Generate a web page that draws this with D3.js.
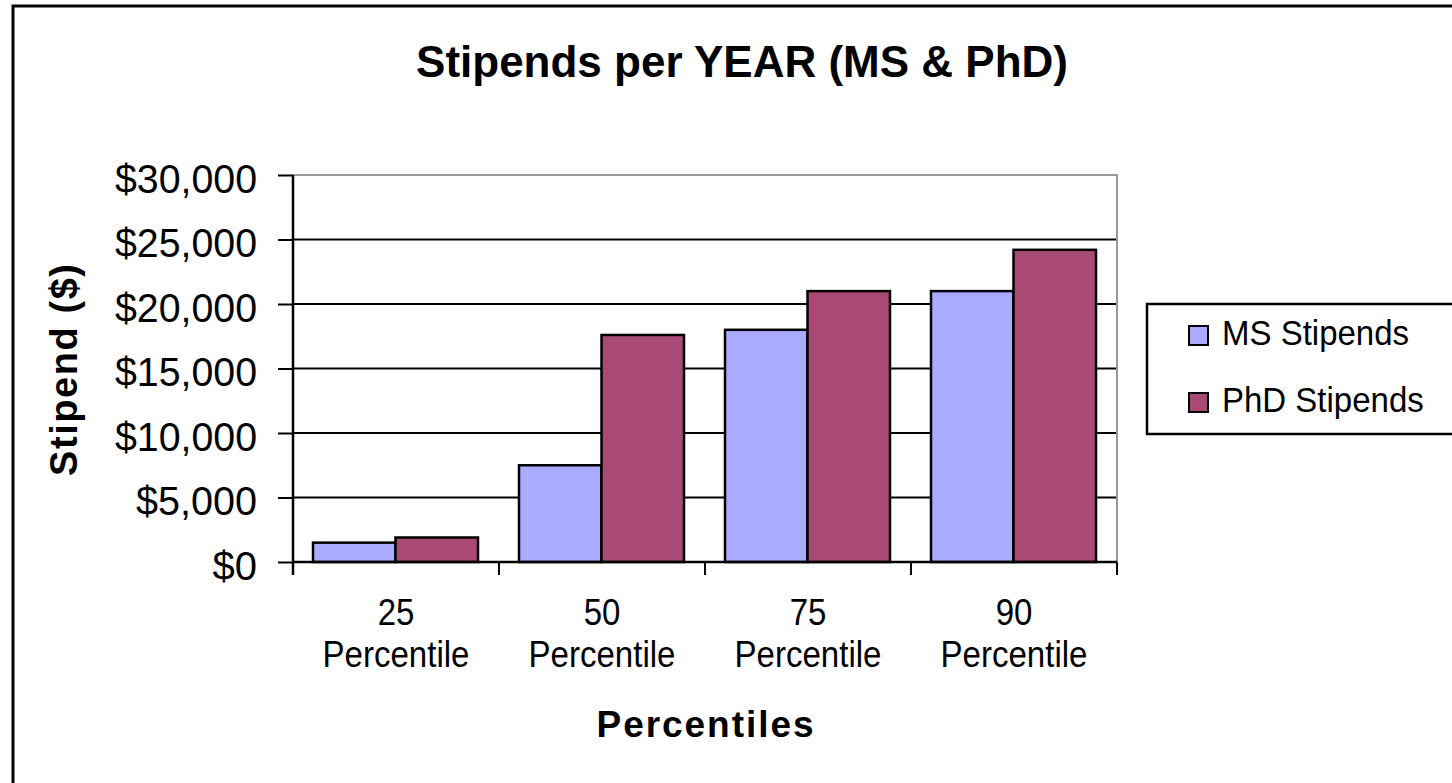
<!DOCTYPE html>
<html lang="en">
<head>
    <meta charset="UTF-8">
    <title>Stipends per YEAR (MS & PhD)</title>
    <script src="https://d3js.org/d3.v7.min.js"></script>
    <style>
        body { margin: 0; background: white; }
        text { font-family: "Liberation Sans", Arial, sans-serif; fill: black; }
    </style>
</head>
<body>
<script>
    // data
    const categories = ["25 Percentile", "50 Percentile", "75 Percentile", "90 Percentile"];
    const seriesNames = ["MS Stipends", "PhD Stipends"];
    const msValues = [1500, 7500, 18000, 21000];
    const phdValues = [1900, 17600, 21000, 24200];
    const yTicks = [0, 5000, 10000, 15000, 20000, 25000, 30000];
    const colors = ["#aaaaff", "#a94a75"];

    const W = 1452, H = 783;
    const plot = {left: 293, right: 1117, top: 175, bottom: 562};

    const rows = categories.map((c, i) => ({cat: c, values: [msValues[i], phdValues[i]]}));

    const svg = d3.select("body")
        .append("svg")
        .attr("width", W)
        .attr("height", H);

    // outer chart frame (runs off the right and bottom edge)
    svg.append("rect")
        .attr("x", 13).attr("y", 6)
        .attr("width", 1500).attr("height", 800)
        .attr("fill", "white")
        .attr("stroke", "black")
        .attr("stroke-width", 3);

    const x = d3.scaleBand()
        .domain(categories)
        .range([plot.left, plot.right]);

    const xs = d3.scaleBand()
        .domain(seriesNames)
        .range([20, 185]);

    const y = d3.scaleLinear()
        .domain([0, 30000])
        .range([plot.bottom, plot.top]);

    // gridlines
    svg.append("g")
        .selectAll("line")
        .data(yTicks.slice(1, -1))
        .join("line")
        .attr("x1", plot.left).attr("x2", plot.right)
        .attr("y1", d => y(d)).attr("y2", d => y(d))
        .attr("stroke", "black")
        .attr("stroke-width", 1.8);

    // grey plot border top and right
    svg.append("path")
        .attr("d", `M${plot.left},${y(30000)}H${plot.right}V${y(0)}`)
        .attr("fill", "none")
        .attr("stroke", "#999")
        .attr("stroke-width", 2);

    // bars
    const groups = svg.append("g")
        .selectAll("g")
        .data(rows)
        .join("g")
        .attr("transform", d => `translate(${x(d.cat)},0)`);

    groups.selectAll("rect")
        .data(d => d.values.map((v, i) => ({name: seriesNames[i], value: v, i: i})))
        .join("rect")
        .attr("x", d => xs(d.name))
        .attr("width", xs.bandwidth())
        .attr("y", d => y(d.value))
        .attr("height", d => y(0) - y(d.value))
        .attr("fill", d => colors[d.i])
        .attr("stroke", "black")
        .attr("stroke-width", 2.5);

    // y axis
    const yAxis = svg.append("g")
        .attr("transform", `translate(${plot.left},0)`)
        .call(d3.axisLeft(y)
            .tickValues(yTicks)
            .tickSize(15)
            .tickPadding(21)
            .tickFormat(d3.format("$,")));
    yAxis.select(".domain").remove();
    yAxis.selectAll(".tick line").attr("stroke", "black").attr("stroke-width", 2);
    yAxis.selectAll(".tick text")
        .attr("font-size", 40)
        .attr("dy", "0.43em")
        .attr("textLength", d => d === 0 ? null : (d < 10000 ? 121 : 142))
        .attr("lengthAdjust", "spacingAndGlyphs")
        .style("font-family", "'Liberation Sans', Arial, sans-serif");

    // x axis line and boundary ticks
    svg.append("line")
        .attr("x1", plot.left).attr("x2", plot.right)
        .attr("y1", y(0)).attr("y2", y(0))
        .attr("stroke", "black").attr("stroke-width", 2.5);
    svg.append("line")
        .attr("x1", plot.left).attr("x2", plot.left)
        .attr("y1", y(30000)).attr("y2", y(0) + 13)
        .attr("stroke", "black").attr("stroke-width", 2.5);
    svg.append("g")
        .selectAll("line")
        .data(categories.map(c => x(c)).concat([x.range()[1]]))
        .join("line")
        .attr("x1", d => d).attr("x2", d => d)
        .attr("y1", y(0)).attr("y2", y(0) + 13)
        .attr("stroke", "black").attr("stroke-width", 2);

    // x tick labels on two lines, slightly stretched like the original
    const xl = svg.append("g")
        .selectAll("g")
        .data(categories)
        .join("g")
        .attr("transform", d => `translate(${x(d) + x.bandwidth() / 2},0)`);
    xl.append("text")
        .attr("transform", "translate(0,625) scale(1,1.1)")
        .attr("text-anchor", "middle")
        .attr("font-size", 33)
        .text(d => d.split(" ")[0]);
    xl.append("text")
        .attr("transform", "translate(0,667) scale(1,1.1)")
        .attr("text-anchor", "middle")
        .attr("font-size", 33)
        .attr("textLength", 147)
        .attr("lengthAdjust", "spacingAndGlyphs")
        .text(d => d.split(" ")[1]);

    // titles
    svg.append("text")
        .attr("x", 742).attr("y", 77)
        .attr("text-anchor", "middle")
        .attr("font-size", 44)
        .attr("font-weight", "bold")
        .text("Stipends per YEAR (MS & PhD)");

    svg.append("text")
        .attr("x", (plot.left + plot.right) / 2).attr("y", 737)
        .attr("text-anchor", "middle")
        .attr("font-size", 37)
        .attr("font-weight", "bold")
        .attr("textLength", 217)
        .attr("lengthAdjust", "spacing")
        .text("Percentiles");

    svg.append("text")
        .attr("transform", "translate(77,370) rotate(-90)")
        .attr("text-anchor", "middle")
        .attr("font-size", 38)
        .attr("font-weight", "bold")
        .attr("textLength", 212)
        .attr("lengthAdjust", "spacing")
        .text("Stipend ($)");

    // legend
    const legend = svg.append("g");
    legend.append("rect")
        .attr("x", 1147).attr("y", 304)
        .attr("width", 400).attr("height", 130)
        .attr("fill", "white")
        .attr("stroke", "black")
        .attr("stroke-width", 2.5);

    const li = legend.selectAll("g")
        .data(seriesNames)
        .join("g")
        .attr("transform", (d, i) => `translate(1189,${326 + i * 67})`);
    li.append("rect")
        .attr("width", 19).attr("height", 19)
        .attr("fill", (d, i) => colors[i])
        .attr("stroke", "black")
        .attr("stroke-width", 2);
    li.append("text")
        .attr("transform", "translate(33,19) scale(1,1.06)")
        .attr("font-size", 33)
        .text(d => d);
</script>
</body>
</html>
